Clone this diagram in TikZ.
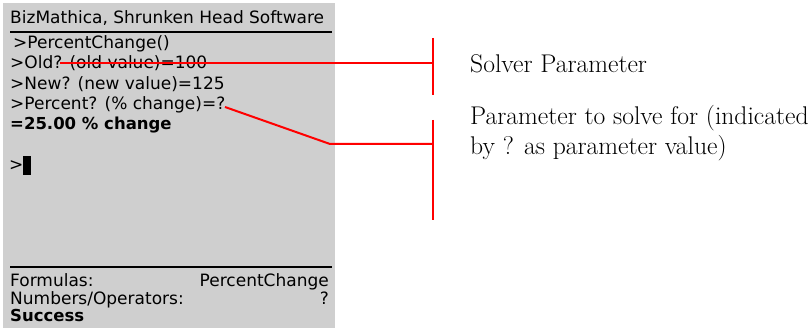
\documentclass[tikz,border=0pt]{standalone}
\usepackage{fontspec}
\newfontfamily\scrfont{DejaVu Sans}
\definecolor{scrgray}{RGB}{207,207,207}
\definecolor{annred}{RGB}{255,0,0}
\begin{document}
\begin{tikzpicture}[x=1pt,y=-1pt,
  scrtext/.style={anchor=base west,inner sep=0pt,font=\scrfont\fontsize{17}{17}\selectfont},
  scrbold/.style={scrtext,font=\scrfont\bfseries\fontsize{16.5}{17}\selectfont},
  scrright/.style={scrtext,anchor=base east},
  label/.style={anchor=base west,inner sep=0pt,font=\fontsize{25.6}{30}\selectfont,align=left},
  redline/.style={draw=annred,line width=2pt},
  rule/.style={draw=black,line width=2pt}]
\useasboundingbox (0,0) rectangle (812,328);
\fill[white] (0,0) rectangle (812,328);
\node[fill=scrgray,minimum width=332pt,minimum height=325pt,anchor=north west,inner sep=0pt] (screen) at (3,3) {};
\node[scrtext] (title) at (10,24) {BizMathica, Shrunken Head Software};
\coordinate (hl) at (10,32); \coordinate (hr) at (332,32);
\draw[rule] (hl) -- (hr);
\node[scrtext] (l1) at (13,49) {>PercentChange()};
\node[scrtext] (l2) at (10,69) {>Old? (old value)=100};
\node[scrtext] (l3) at (10,90) {>New? (new value)=125};
\node[scrtext] (l4) at (10,110) {>Percent? (\% change)=?};
\node[scrbold] (l5) at (10,130) {=25.00 \% change};
\node[scrtext] (prompt) at (9,171) {>};
\node[fill=black,minimum width=8pt,minimum height=19pt,inner sep=0pt,anchor=north west] (cursor) at (23,156) {};
\coordinate (bl) at (10,267); \coordinate (br) at (332,267);
\draw[rule] (bl) -- (br);
\node[scrtext] (f1) at (10,287) {Formulas:};
\node[scrright] (f1r) at (329,287) {PercentChange};
\node[scrtext] (f2) at (10,305) {Numbers/Operators:};
\node[scrright] (f2r) at (329,305) {?};
\node[scrbold] (f3) at (10,322) {Success};
% annotations
\node[label] (sp) at (470,73) {Solver Parameter};
\node[label] (ps) at (470,155) {Parameter to solve for (indicated\\by ? as parameter value)};
\coordinate (old) at (60,63);
\coordinate (b1top) at (433,38); \coordinate (b1mid) at (433,63); \coordinate (b1bot) at (433,95);
\coordinate (q) at (225,107); \coordinate (bend) at (330,144);
\coordinate (b2top) at (433,120); \coordinate (b2mid) at (433,144); \coordinate (b2bot) at (433,220);
\draw[redline] (old) -- (b1mid);
\draw[redline] (b1top) -- (b1bot);
\draw[redline] (q) -- (bend) -- (b2mid);
\draw[redline] (b2top) -- (b2bot);
\end{tikzpicture}
\end{document}
